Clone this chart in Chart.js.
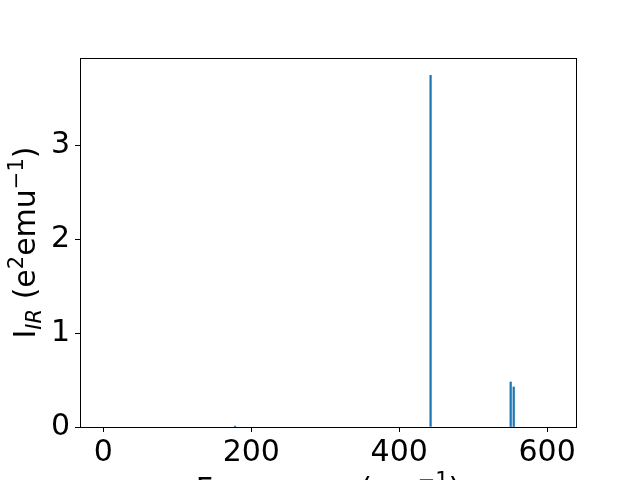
<!DOCTYPE html>
<html>
<head>
<meta charset="utf-8">
<script src="https://cdn.jsdelivr.net/npm/chart.js@4/dist/chart.umd.min.js"></script>
<style>
  html, body { margin: 0; padding: 0; background: #fff; }
  #wrap { width: 640px; height: 480px; }
</style>
</head>
<body>
<div id="wrap"><canvas id="irChart" width="640" height="480"></canvas></div>
<script>
// IR spectrum: frequency (cm^-1) and intensity
const freqs = [178, 442.4, 550.7, 554.8];
const intensities = [0.01, 3.745, 0.479, 0.426];
const xTicks = [0, 200, 400, 600];
const yTicks = [0, 1, 2, 3];

const FONT = "'DejaVu Sans', sans-serif";
const FS = 30;

// draw a label made of normal / sub / sup pieces, centered at (cx, baseline y)
function drawRichText(ctx, parts, cx, y) {
  const widths = parts.map(p => {
    ctx.font = (p.italic ? "italic " : "") + (p.small ? FS * 0.7 : FS) + "px " + FONT;
    return ctx.measureText(p.t).width;
  });
  const total = widths.reduce((a, b) => a + b, 0);
  let x = cx - total / 2;
  parts.forEach((p, i) => {
    ctx.font = (p.italic ? "italic " : "") + (p.small ? FS * 0.7 : FS) + "px " + FONT;
    ctx.fillText(p.t, x, y + (p.dy || 0));
    x += widths[i];
  });
}

const framePlugin = {
  id: "frame",
  afterDraw(chart) {
    const { ctx, chartArea: a } = chart;
    ctx.save();
    ctx.strokeStyle = "#000";
    ctx.lineWidth = 1;
    ctx.strokeRect(Math.round(a.left) + 0.5, Math.round(a.top) + 0.5,
      Math.round(a.right - a.left), Math.round(a.bottom - a.top));
    ctx.fillStyle = "#000";
    ctx.textBaseline = "alphabetic";
    ctx.textAlign = "left";

    // x axis title (mostly below the canvas, like the reference)
    drawRichText(ctx, [
      { t: "Frequency (cm" },
      { t: "\u22121", small: true, dy: -12 },
      { t: ")" }
    ], (a.left + a.right) / 2, 499);

    // y axis title
    ctx.translate(35, (a.top + a.bottom) / 2);
    ctx.rotate(-Math.PI / 2);
    drawRichText(ctx, [
      { t: "I" },
      { t: "IR", small: true, italic: true, dy: 6 },
      { t: " (e" },
      { t: "2", small: true, dy: -12 },
      { t: "emu" },
      { t: "\u22121", small: true, dy: -12 },
      { t: ")" }
    ], 0, 0);
    ctx.restore();
  }
};

const axisStyle = {
  grid: { display: true, offset: false, drawOnChartArea: false, drawTicks: true, tickLength: 5, tickColor: "#000", tickWidth: 1 },
  border: { display: true, color: "#000", width: 1 }
};

new Chart(document.getElementById("irChart").getContext("2d"), {
  type: "bar",
  data: {
    datasets: [{
      data: freqs.map((f, i) => ({ x: f, y: intensities[i] })),
      backgroundColor: "#1f77b4",
      borderWidth: 0,
      barThickness: 1.6
    }]
  },
  options: {
    responsive: false,
    animation: false,
    devicePixelRatio: 1,
    layout: { padding: { left: 0, top: 58, right: 64, bottom: 0 } },
    plugins: { legend: { display: false }, tooltip: { enabled: false } },
    scales: {
      x: {
        type: "linear",
        min: -31.6,
        max: 639,
        offset: false,
        ...axisStyle,
        ticks: { color: "#000", font: { family: FONT, size: FS }, padding: 3, maxRotation: 0, autoSkip: false },
        afterBuildTicks: s => { s.ticks = xTicks.map(v => ({ value: v })); },
        afterFit: s => { s.height = 53; }
      },
      y: {
        type: "linear",
        min: 0,
        max: 3.93,
        ...axisStyle,
        ticks: { color: "#000", font: { family: FONT, size: FS }, padding: 5 },
        afterBuildTicks: s => { s.ticks = yTicks.map(v => ({ value: v })); },
        afterFit: s => { s.width = 80; }
      }
    }
  },
  plugins: [framePlugin]
});
</script>
</body>
</html>
